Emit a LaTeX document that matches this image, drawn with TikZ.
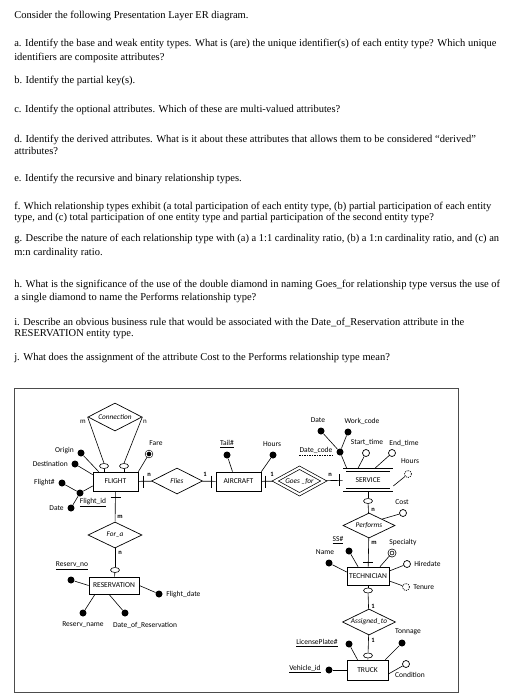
\documentclass[tikz,border=0pt]{standalone}
\usepackage{fontspec}
\setmainfont{Liberation Serif}
\newfontfamily\erfont{Carlito}
\usetikzlibrary{shapes.geometric}

\begin{document}
\begin{tikzpicture}[x=1pt,y=-1pt,line width=0.6pt,
    qline/.style={anchor=base west,inner sep=0pt,font=\fontsize{10.5}{12}\selectfont},
    ent/.style={draw,line width=0.7pt,minimum width=45,minimum height=19,inner sep=0pt,font=\erfont\fontsize{7.5}{8}\selectfont},
    weakent/.style={ent,double,double distance=2.4pt,outer sep=1.8pt},
    rel/.style={diamond,draw,line width=0.7pt,shape aspect=2,inner sep=0pt,font=\erfont\itshape\fontsize{7.3}{8}\selectfont},
    idrel/.style={rel,double,double distance=2.2pt,outer sep=1.8pt},
    keydot/.style={circle,fill,inner sep=0pt,minimum size=7pt},
    attr/.style={circle,draw,fill=white,line width=0.7pt,inner sep=0pt,minimum size=7pt},
    multi/.style={attr,double,double distance=1.1pt,minimum size=6pt},
    multidot/.style={keydot,draw,double=white,double distance=0.9pt,minimum size=6pt},
    derived/.style={attr,dash pattern=on 1pt off 1pt},
    opt/.style={ellipse,draw,fill=white,line width=0.6pt,minimum width=9pt,minimum height=5pt,inner sep=0pt},
    lbl/.style={inner sep=0pt,font=\erfont\fontsize{7.5}{9}\selectfont},
    card/.style={inner sep=0pt,font=\erfont\bfseries\fontsize{6.5}{8}\selectfont},
    cardn/.style={inner sep=0pt,font=\erfont\fontsize{7}{8}\selectfont}]
  \useasboundingbox (0,0) rectangle (531,700);

  \foreach \y/\t [count=\i] in {
      18.5/{Consider the following Presentation Layer ER diagram.},
      46.5/{a. Identify the base and weak entity types. What is (are) the unique identifier(s) of each entity type? Which unique},
      60.5/{identifiers are composite attributes?},
      83.5/{b. Identify the partial key(s).},
      112.5/{c. Identify the optional attributes. Which of these are multi-valued attributes?},
      142.5/{d. Identify the derived attributes. What is it about these attributes that allows them to be considered “derived”},
      154.5/{attributes?},
      181.5/{e. Identify the recursive and binary relationship types.},
      209.5/{f. Which relationship types exhibit (a total participation of each entity type, (b) partial participation of each entity},
      220.5/{type, and (c) total participation of one entity type and partial participation of the second entity type?},
      241.5/{g. Describe the nature of each relationship type with (a) a 1:1 cardinality ratio, (b) a 1:n cardinality ratio, and (c) an},
      255.5/{m:n cardinality ratio.},
      287.5/{h. What is the significance of the use of the double diamond in naming Goes\_for relationship type versus the use of},
      300.5/{a single diamond to name the Performs relationship type?},
      325.5/{i. Describe an obvious business rule that would be associated with the Date\_of\_Reservation attribute in the},
      336.5/{RESERVATION entity type.},
      360.5/{j. What does the assignment of the attribute Cost to the Performs relationship type mean?}}
    \node[qline] (q\i) at (14,\y) {\t};

  \draw[black!70,line width=0.8pt] (14,388) rectangle (458,692);

  \node[ent] (flight) at (115.5,481.5) {FLIGHT};
  \node[ent] (aircraft) at (238.5,481.5) {AIRCRAFT};
  \node[weakent,minimum width=47,minimum height=20] (service) at (368,480) {SERVICE};
  \node[ent,minimum width=50,minimum height=17] (reservation) at (114,585.5) {RESERVATION};
  \node[ent,minimum width=42,minimum height=18] (technician) at (368,576) {TECHNICIAN};
  \node[ent,minimum width=41,minimum height=20] (truck) at (367.5,670) {TRUCK};

  \node[rel,minimum width=54,minimum height=28] (connection) at (115,417) {Connection};
  \node[rel,minimum width=51,minimum height=26] (flies) at (177,481) {Flies};
  \node[idrel,minimum width=50,minimum height=28] (goesfor) at (299.5,481) {Goes \_for};
  \node[rel,minimum width=54,minimum height=26] (fora) at (115,535) {For\_a};
  \node[rel,minimum width=52,minimum height=25] (performs) at (369,525.5) {Performs};
  \node[rel,minimum width=53,minimum height=26] (assigned) at (369,622) {Assigned\_to};

  \node[opt] (copt1) at (104,466) {};
  \node[opt] (copt2) at (124,466) {};
  \node[opt] (ropt) at (115,570) {};
  \node[opt] (sopt) at (368,501) {};
  \node[opt] (topt) at (368,590.5) {};
  \node[opt] (kopt) at (368,655.5) {};

  \draw (connection.west) -- (copt1.north);
  \draw (connection.east) -- (copt2.north);
  \draw (copt1.south) -- (copt1.south |- flight.north);
  \draw (copt2.south) -- (copt2.south |- flight.north);
  \draw (flight) -- (flies);
  \draw (flies) -- (aircraft);
  \draw (aircraft) -- (goesfor);
  \draw (goesfor) -- (service);
  \draw (flight) -- (fora);
  \draw (fora) -- (ropt);
  \draw (ropt) -- (reservation);
  \draw (service) -- (sopt);
  \draw (sopt) -- (performs);
  \draw (performs) -- (technician);
  \draw (technician) -- (topt);
  \draw (topt) -- (assigned);
  \draw (assigned) -- (kopt);
  \draw (kopt) -- (truck);

  \draw ([xshift=5pt]flight.east) ++(0,-6) -- ++(0,12);
  \draw ([xshift=-4pt]aircraft.west) ++(0,-6) -- ++(0,12);
  \draw ([xshift=4pt]aircraft.east) ++(0,-6) -- ++(0,12);
  \draw ([xshift=-3pt]service.west) ++(0,-6) -- ++(0,12);
  \draw ([yshift=-6pt]flight.south) ++(-5,0) -- ++(10,0);
  \draw ([yshift=4pt]technician.north) ++(-5,0) -- ++(10,0);

  \node[cardn] (cm) at (83,422) {m};
  \node[cardn] (cn) at (145,422) {n};
  \node[card] (fln) at (149,475) {n};
  \node[card] (fl1) at (205,474) {1};
  \node[card] (go1) at (272,474) {1};
  \node[card] (gon) at (330,475) {n};
  \node[card] (fam) at (120,517) {m};
  \node[card] (fan) at (120,553) {n};
  \node[card] (pen) at (373,510) {n};
  \node[card] (pem) at (374,543) {m};
  \node[card] (as1) at (373,606) {1};
  \node[card] (as2) at (373,640) {1};

  \node[keydot] (origin) at (81,453) {};
  \node[lbl,anchor=east] (originT) at (74,451) {Origin};
  \node[keydot] (dest) at (75,464) {};
  \node[lbl,anchor=east] (destT) at (68,464) {Destination};
  \node[keydot] (fnum) at (62,483) {};
  \node[lbl,anchor=east] (fnumT) at (55,483) {Flight\#};
  \node[keydot] (fdate) at (71,508) {};
  \node[lbl,anchor=east] (fdateT) at (64,508) {Date};
  \node[keydot] (fid) at (80,493) {};
  \node[lbl] (fidT) at (93,503) {\underline{Flight\_id}};
  \node[multidot] (fare) at (149,454) {};
  \node[lbl] (fareT) at (156,443) {Fare};
  \draw (origin) -- ([xshift=6pt]flight.north west);
  \draw (dest) -- ([yshift=-3pt]flight.north west);
  \draw (fnum) -- (fid);
  \draw (fdate) -- (fid);
  \draw (fid) -- ([yshift=-4.5pt]flight.west);
  \draw (fare) -- (flight.north east);

  \node[keydot] (tail) at (227,455) {};
  \node[lbl] (tailT) at (227,444) {\underline{Tail\#}};
  \node[keydot] (ahours) at (273,455) {};
  \node[lbl] (ahoursT) at (272,444) {Hours};
  \draw (tail) -- ([xshift=-6pt]aircraft.north);
  \draw (ahours) -- (aircraft.north east);

  \node[keydot] (sdate) at (321,431) {};
  \node[lbl] (sdateT) at (318,420) {Date};
  \node[keydot] (wcode) at (348,432) {};
  \node[lbl] (wcodeT) at (362,421) {Work\_code};
  \node[keydot] (dcode) at (340,452) {};
  \node[lbl] (dcodeT) at (316,450) {Date\_code};
  \draw[dash pattern=on 1.5pt off 1pt] ([yshift=-1.5pt]dcodeT.south west) -- ([yshift=-1.5pt]dcodeT.south east);
  \node[attr] (stime) at (366,453) {};
  \node[lbl] (stimeT) at (367,442) {Start\_time};
  \node[attr] (etime) at (392,453) {};
  \node[lbl] (etimeT) at (404,443) {End\_time};
  \node[derived] (shours) at (408,474) {};
  \node[lbl] (shoursT) at (410,461) {Hours};
  \draw (sdate) -- (dcode);
  \draw (wcode) -- (dcode);
  \draw (dcode) -- ([xshift=4pt]service.north west);
  \draw (stime) -- ([xshift=-10pt]service.north);
  \draw (etime) -- ([xshift=7pt]service.north);
  \draw (shours) -- ([yshift=-6pt]service.east);

  \node[attr] (cost) at (403,513) {};
  \node[lbl] (costT) at (402,502) {Cost};
  \draw (cost) -- (performs.north east);

  \node[keydot] (ssn) at (349,551) {};
  \node[lbl] (ssnT) at (338,540) {\underline{SS\#}};
  \node[keydot] (tname) at (329,563) {};
  \node[lbl] (tnameT) at (325,552) {Name};
  \node[multi] (spec) at (392,553) {};
  \node[lbl] (specT) at (403,542) {Specialty};
  \node[attr] (hire) at (407,564) {};
  \node[lbl,anchor=west] (hireT) at (414,564) {Hiredate};
  \node[derived] (tenure) at (406,587) {};
  \node[lbl,anchor=west] (tenureT) at (413,587) {Tenure};
  \draw (ssn) -- ([xshift=-10pt]technician.north);
  \draw (tname) -- ([yshift=4pt]technician.west);
  \draw (spec) -- ([xshift=12pt]technician.north);
  \draw (hire) -- ([yshift=5pt]technician.east);
  \draw (tenure) -- ([yshift=-5pt]technician.east);

  \node[keydot] (resno) at (71,580) {};
  \node[lbl] (resnoT) at (72,566) {\underline{Reserv\_no}};
  \node[keydot] (flightdate) at (159,594) {};
  \node[lbl,anchor=west] (flightdateT) at (166,595) {Flight\_date};
  \node[keydot] (rname) at (83,613) {};
  \node[lbl] (rnameT) at (83,625) {Reserv\_name};
  \node[keydot] (rdate) at (125,613) {};
  \node[lbl] (rdateT) at (145,625) {Date\_of\_Reservation};
  \draw (resno) -- (reservation.west);
  \draw (flightdate) -- (reservation.east);
  \draw (rname) -- ([xshift=-19pt]reservation.south);
  \draw (rdate) -- ([xshift=-5pt]reservation.south);

  \node[keydot] (plate) at (349,644) {};
  \node[lbl] (plateT) at (317,643) {\underline{LicensePlate\#}};
  \node[keydot] (tonnage) at (402,643) {};
  \node[lbl] (tonnageT) at (408,632) {Tonnage};
  \node[keydot] (vehid) at (329,670) {};
  \node[lbl] (vehidT) at (305,669) {\underline{Vehicle\_id}};
  \node[attr] (cond) at (406,664) {};
  \node[lbl] (condT) at (410,675) {Condition};
  \draw (plate) -- ([xshift=-10pt]truck.north);
  \draw (tonnage) -- ([xshift=-3pt]truck.north east);
  \draw (vehid) -- (truck.west);
  \draw (cond) -- ([yshift=-4pt]truck.east);
\end{tikzpicture}
\end{document}
